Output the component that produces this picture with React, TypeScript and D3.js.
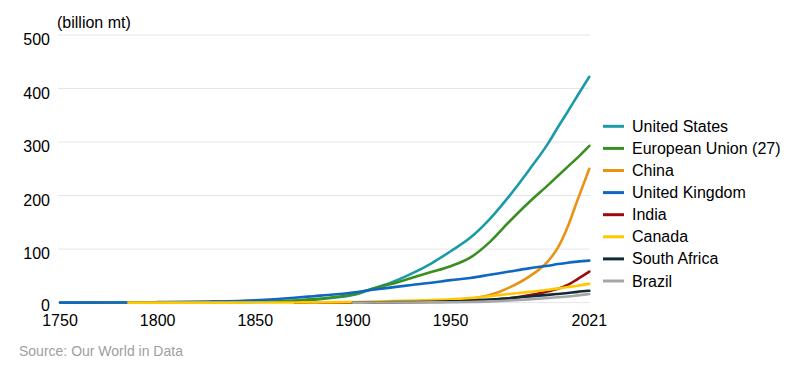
import React from "react";
import * as d3 from "d3";

const years = [1750, 1785, 1800, 1825, 1850, 1870, 1880, 1890, 1900, 1910, 1920, 1930, 1940, 1950, 1960, 1970, 1980, 1990, 2000, 2005, 2010, 2015, 2021];

const unitedStates = [null, null, 0.05, 0.2, 1, 3, 5.5, 9, 14, 26, 38, 54, 73, 96, 121, 156, 199, 247, 298, 328, 357, 387, 422];
const europeanUnion = [0, 0.05, 0.1, 0.4, 1.5, 4, 6.5, 10, 15, 26, 35, 46, 57, 68, 84, 113, 151, 187, 220, 237, 254, 271, 293];
const china = [null, null, null, null, null, null, null, null, 0.05, 0.2, 0.4, 0.8, 1.3, 2, 7, 14, 28, 48, 78, 103, 142, 192, 250];
const unitedKingdom = [0, 0.3, 0.8, 2, 4.5, 9, 12, 15, 19, 24, 28.5, 33, 37, 42, 46, 52, 58, 64, 69, 72, 74.5, 76.5, 78.5];
const india = [null, null, null, null, null, 0.02, 0.05, 0.1, 0.3, 0.6, 0.9, 1.2, 1.6, 2.2, 3.3, 5, 8, 13.5, 21, 26, 33, 44, 58];
const canada = [null, 0, 0.01, 0.02, 0.1, 0.3, 0.5, 0.8, 1.2, 2, 3, 3.8, 4.6, 6, 8.5, 12, 16, 20, 24, 26.5, 29, 31.5, 35];
const southAfrica = [null, null, null, null, null, null, null, null, 0.2, 0.5, 0.8, 1.1, 1.5, 2.2, 3.5, 5.5, 8, 11.5, 14.5, 16.2, 18, 20, 22];
const brazil = [null, null, null, null, null, null, null, null, 0, 0.05, 0.1, 0.2, 0.35, 0.6, 1.2, 2.2, 4, 6, 8.5, 10, 11.5, 13.5, 16];

const seriesNames = ["United States", "European Union (27)", "China", "United Kingdom", "India", "Canada", "South Africa", "Brazil"];
const seriesValues = [unitedStates, europeanUnion, china, unitedKingdom, india, canada, southAfrica, brazil];
const seriesColors = ["#1a9ba6", "#3b8e22", "#ea9214", "#0f67c2", "#9b0b0b", "#ffc800", "#0e2b36", "#a6a6a6"];

const yTicks = [0, 100, 200, 300, 400, 500];
const xTicks = [1750, 1800, 1850, 1900, 1950, 2021];

export default function App() {
  const W = 800, H = 376;
  const x = d3.scaleLinear().domain([1750, 2021]).range([60, 589.3]);
  const y = d3.scaleLinear().domain([0, 500]).range([302.6, 35]);
  const font = "'Liberation Sans', Arial, Helvetica, sans-serif";

  const line = d3
    .line<[number, number | null]>()
    .defined((d) => d[1] != null)
    .x((d) => x(d[0]))
    .y((d) => y(d[1] as number))
    .curve(d3.curveMonotoneX);

  return (
    <svg width={W} height={H} style={{ position: "absolute", left: 0, top: 0, background: "#fff" }} fontFamily={font}>
      {yTicks.map((t) => (
        <g key={t}>
          <line x1={58} x2={590} y1={y(t)} y2={y(t)} stroke="#e6e6e6" strokeWidth={1} />
          <text x={50} y={y(t) + (t === 0 ? 8 : 10)} fontSize={16} textAnchor="end" fill="#000">
            {t}
          </text>
        </g>
      ))}
      <text x={57} y={28} fontSize={16} fill="#000">(billion mt)</text>
      {xTicks.map((t) => (
        <text key={t} x={x(t)} y={326} fontSize={16} textAnchor="middle" fill="#000">
          {t}
        </text>
      ))}
      {seriesValues.map((vals, i) => (
        <path
          key={seriesNames[i]}
          d={line(years.map((yr, j) => [yr, vals[j]]) as [number, number | null][]) || ""}
          fill="none"
          stroke={seriesColors[i]}
          strokeWidth={2.6}
          strokeLinejoin="round"
          strokeLinecap="round"
        />
      ))}
      {seriesNames.map((name, i) => {
        const ly = 126.3 + i * 22.1;
        return (
          <g key={name}>
            <line x1={603} x2={624} y1={ly} y2={ly} stroke={seriesColors[i]} strokeWidth={3} />
            <text x={632} y={ly + 5.5} fontSize={16} fill="#000">
              {name}
            </text>
          </g>
        );
      })}
      <text x={19} y={356} fontSize={14} fill="#a0a0a0">Source: Our World in Data</text>
    </svg>
  );
}
